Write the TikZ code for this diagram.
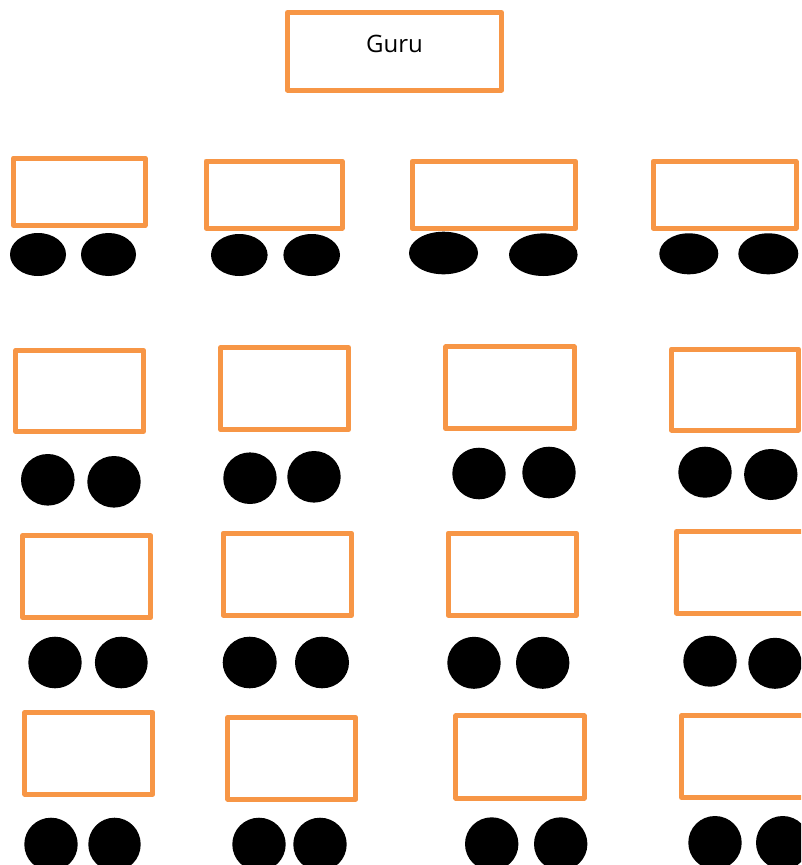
\documentclass[tikz,border=0pt]{standalone}
\usepackage{fontspec}
\setmainfont{Open Sans}
\usetikzlibrary{shapes.geometric}
\definecolor{deskorange}{HTML}{F79646}
\tikzset{
  desk/.style={draw=deskorange, line width=5pt, line join=round, fill=white, rectangle, inner sep=0pt, outer sep=0pt},
  stud/.style={fill=black, draw=none, ellipse, inner sep=0pt, outer sep=0pt},
  gurutext/.style={font=\fontsize{24}{28}\selectfont, text=black, inner sep=0pt}
}
\newcommand\deskbox[5]{%
  \pgfmathsetmacro\dcx{(#2+#4)/2}\pgfmathsetmacro\dcy{(#3+#5)/2}%
  \pgfmathsetmacro\dw{#4-#2}\pgfmathsetmacro\dh{#5-#3}%
  \node[desk, minimum width=\dw pt, minimum height=\dh pt] (#1) at (\dcx,\dcy) {};}
\newcommand\pupil[5]{%
  \pgfmathsetmacro\pw{2*#4}\pgfmathsetmacro\ph{2*#5}%
  \node[stud, minimum width=\pw pt, minimum height=\ph pt] (#1) at (#2,#3) {};}
\begin{document}
\begin{tikzpicture}[x=1pt, y=-1pt]
\useasboundingbox (0,0) rectangle (801,865);
\clip (0,0) rectangle (801,865);
% teacher
\deskbox{guru}{287.5}{12.5}{501.5}{90}
\node[gurutext] (gurulabel) at (394.5,44) {Guru};
% row A
\deskbox{a1}{13.5}{158}{145}{225.5}
\pupil{a1l}{38}{254.5}{28}{21.5}
\pupil{a1r}{108.5}{254.5}{27.5}{21.5}
\deskbox{a2}{206}{161}{342}{228}
\pupil{a2l}{239.3}{255}{28.3}{21}
\pupil{a2r}{311.7}{255}{28.3}{21}
\deskbox{a3}{412}{161.5}{575.7}{228.5}
\pupil{a3l}{443.5}{253}{34.5}{21.3}
\pupil{a3r}{543.3}{254.7}{34.3}{21.3}
\deskbox{a4}{653}{161.5}{796}{228}
\pupil{a4l}{688.8}{253.8}{29.5}{20.5}
\pupil{a4r}{768.3}{253.8}{30}{20.5}
% row B
\deskbox{b1}{15.8}{350.2}{143.5}{431.5}
\pupil{b1l}{47.8}{479.8}{26.8}{25.8}
\pupil{b1r}{114}{481.8}{26.7}{25.8}
\deskbox{b2}{220.8}{347.5}{348.5}{429.8}
\pupil{b2l}{250}{478.2}{26.7}{25.8}
\pupil{b2r}{314}{476.8}{26.7}{25.8}
\deskbox{b3}{445.8}{346.8}{574.2}{428.5}
\pupil{b3l}{479}{473.5}{26.7}{25.8}
\pupil{b3r}{549}{472.5}{26.7}{25.8}
\deskbox{b4}{671.5}{349}{798.5}{430}
\pupil{b4l}{705}{472.2}{26.7}{25.5}
\pupil{b4r}{770.8}{474.5}{26.7}{25.5}
% row C
\deskbox{c1}{22.5}{535.8}{150.8}{617.5}
\pupil{c1l}{55}{662.5}{26.7}{25.8}
\pupil{c1r}{121.3}{662.5}{26.4}{25.8}
\deskbox{c2}{223.2}{533.2}{351.5}{615.2}
\pupil{c2l}{249.7}{662.5}{27}{25.8}
\pupil{c2r}{322}{662.5}{27}{25.8}
\deskbox{c3}{448.2}{533.2}{576.5}{615.2}
\pupil{c3l}{474}{662.8}{26.7}{26}
\pupil{c3r}{542.7}{662.8}{26.7}{26}
\deskbox{c4}{676.5}{531.5}{805}{613}
\pupil{c4l}{710}{661.2}{26.7}{25.5}
\pupil{c4r}{775}{663.3}{26.7}{25.5}
% row D
\deskbox{d1}{24.8}{712.5}{152.8}{794.2}
\pupil{d1l}{51}{844.4}{26.7}{26.7}
\pupil{d1r}{114.5}{844.4}{26.2}{26.7}
\deskbox{d2}{227.8}{717.5}{355.8}{799.2}
\pupil{d2l}{259}{844.4}{26.7}{26.7}
\pupil{d2r}{320}{844.4}{26.7}{26.7}
\deskbox{d3}{455.8}{715.8}{584.2}{798.2}
\pupil{d3l}{491.7}{844}{26.7}{26.7}
\pupil{d3r}{560.7}{844}{26.7}{26.7}
\deskbox{d4}{681.5}{715.8}{810}{797.5}
\pupil{d4l}{715}{842.7}{26.7}{26.7}
\pupil{d4r}{782.7}{842.7}{26.7}{26.7}
\end{tikzpicture}
\end{document}
